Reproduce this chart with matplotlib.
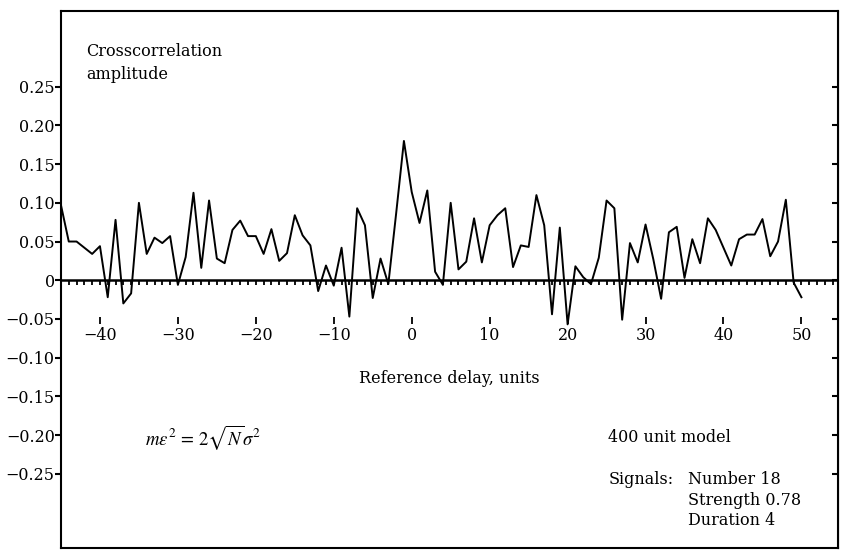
import matplotlib.pyplot as plt
import numpy as np

# crosscorrelation amplitude against reference delay
delay = np.arange(-45, 51)
amplitude = [
    0.097, 0.050, 0.050, 0.042, 0.034, 0.044, -0.022, 0.078, -0.030, -0.017,
    0.100, 0.034, 0.055, 0.048, 0.057, -0.006, 0.030, 0.113, 0.016, 0.103,
    0.028, 0.022, 0.065, 0.077, 0.057, 0.057, 0.034, 0.066, 0.025, 0.035,
    0.084, 0.058, 0.045, -0.014, 0.019, -0.007, 0.042, -0.047, 0.093, 0.071,
    -0.023, 0.028, -0.005, 0.086, 0.180, 0.114, 0.074, 0.116, 0.011, -0.006,
    0.100, 0.014, 0.024, 0.080, 0.023, 0.071, 0.084, 0.093, 0.017, 0.045,
    0.043, 0.110, 0.071, -0.044, 0.068, -0.057, 0.018, 0.004, -0.005, 0.029,
    0.103, 0.093, -0.051, 0.048, 0.023, 0.072, 0.027, -0.024, 0.062, 0.069,
    0.003, 0.053, 0.022, 0.080, 0.065, 0.042, 0.019, 0.053, 0.059, 0.059,
    0.079, 0.031, 0.050, 0.104, -0.003, -0.022,
]

y_ticks = [0.25, 0.20, 0.15, 0.10, 0.05, 0, -0.05, -0.10, -0.15, -0.20, -0.25]
y_labels = ['0.25', '0.20', '0.15', '0.10', '0.05', '0', '\u22120.05', '\u22120.10',
            '\u22120.15', '\u22120.20', '\u22120.25']
x_ticks = [-40, -30, -20, -10, 0, 10, 20, 30, 40, 50]
x_labels = ['\u221240', '\u221230', '\u221220', '\u221210', '0', '10', '20', '30', '40', '50']
signal_lines = ['Number 18', 'Strength 0.78', 'Duration 4']

plt.rcParams['font.family'] = ['DejaVu Serif']
plt.rcParams['mathtext.fontset'] = 'stix'
plt.rcParams['font.size'] = 11.5

fig = plt.figure(figsize=(8.41, 5.52), dpi=100)
ax = fig.add_axes([0.0725, 0.00725, 0.924, 0.973])

x_lo, x_hi = -45.0, 54.7
y_lo, y_hi = -0.346, 0.348
ax.set_xlim(x_lo, x_hi)
ax.set_ylim(y_lo, y_hi)

ax.plot(delay, amplitude, color='black', lw=1.4, zorder=3)
ax.axhline(0, color='black', lw=1.8, zorder=2)

for s in ax.spines.values():
    s.set_linewidth(1.5)

# y ticks: outward on the left, inward on the right
ax.set_yticks(y_ticks)
ax.set_yticklabels(y_labels)
ax.tick_params(axis='y', direction='out', length=4, width=1.5, pad=0.5)
ax.tick_params(axis='x', bottom=False, labelbottom=False)
right = ax.secondary_yaxis('right')
right.set_yticks(y_ticks)
right.tick_params(axis='y', direction='in', length=4, width=1.5, labelright=False)

def frac(v):
    return (v - y_lo) / (y_hi - y_lo)

# small unit ticks hanging from the zero line
zero_ax = ax.secondary_xaxis(frac(0))
zero_ax.set_xticks(np.arange(-44, 55))
zero_ax.tick_params(axis='x', direction='out', length=3.5, width=1.3, labelbottom=False)
zero_ax.spines['bottom'].set_visible(False)

# labelled delay ticks below the zero line
lab_ax = ax.secondary_xaxis(frac(-0.047))
lab_ax.set_xticks(x_ticks)
lab_ax.set_xticklabels(x_labels)
lab_ax.tick_params(axis='x', direction='out', length=5, width=1.3, pad=2.5)
lab_ax.spines['bottom'].set_visible(False)
lab_ax.set_xlabel('Reference delay, units', labelpad=19)

ax.text(-41.8, 0.295, 'Crosscorrelation', ha='left', va='center')
ax.text(-41.8, 0.266, 'amplitude', ha='left', va='center')
ax.text(-34.2, -0.203, r'$m\epsilon^2\,=\,2\sqrt{N}\sigma^2$', ha='left', va='center',
        fontsize=13.5)
ax.text(25.2, -0.203, '400 unit model', ha='left', va='center')
ax.text(25.2, -0.257, 'Signals:', ha='left', va='center')
for i, line in enumerate(signal_lines):
    ax.text(35.5, -0.257 - 0.027 * i, line, ha='left', va='center')

fig.savefig('out.png', dpi=100)
